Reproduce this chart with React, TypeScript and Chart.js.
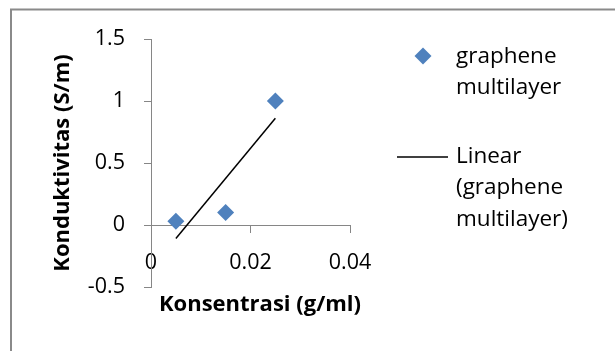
import React, { useEffect, useRef } from "react";
import { Chart, registerables } from "chart.js";

Chart.register(...registerables);

const concentration = [0.005, 0.015, 0.025];
const conductivity = [0.03, 0.1, 1.0];
const xTicks = [0, 0.02, 0.04];
const yTicks = [-0.5, 0, 0.5, 1, 1.5];
const seriesName = "graphene multilayer";
const trendName = "Linear (graphene multilayer)";
const xTitle = "Konsentrasi (g/ml)";
const yTitle = "Konduktivitas (S/m)";

const FONT = "'Open Sans', 'DejaVu Sans', sans-serif";
const BLUE = "#4F81BD";
const AXIS = "#868686";

function linearFit(xs: number[], ys: number[]) {
  const n = xs.length;
  const mx = xs.reduce((a, b) => a + b, 0) / n;
  const my = ys.reduce((a, b) => a + b, 0) / n;
  let sxy = 0, sxx = 0;
  for (let i = 0; i < n; i++) {
    sxy += (xs[i] - mx) * (ys[i] - my);
    sxx += (xs[i] - mx) * (xs[i] - mx);
  }
  const slope = sxy / sxx;
  return { slope, intercept: my - slope * mx };
}

const fmt = (v: number) => String(Math.round(v * 1000) / 1000);

export default function App() {
  const ref = useRef<HTMLCanvasElement | null>(null);

  useEffect(() => {
    document.body.style.margin = "0";
    const fit = linearFit(concentration, conductivity);
    const xMin = Math.min(...concentration);
    const xMax = Math.max(...concentration);
    const trend = [
      { x: xMin, y: fit.slope * xMin + fit.intercept },
      { x: xMax, y: fit.slope * xMax + fit.intercept },
    ];

    const decor = {
      id: "decor",
      beforeDraw(chart: any) {
        const ctx = chart.ctx;
        ctx.save();
        ctx.fillStyle = "#ffffff";
        ctx.fillRect(0, 0, chart.width, chart.height);
        ctx.strokeStyle = "#8a8a8a";
        ctx.lineWidth = 2;
        ctx.beginPath();
        ctx.moveTo(11, chart.height + 5);
        ctx.lineTo(11, 9.5);
        ctx.lineTo(chart.width + 5, 9.5);
        ctx.stroke();
        ctx.restore();
      },
      afterDraw(chart: any) {
        const ctx = chart.ctx;
        ctx.save();
        ctx.fillStyle = "#000";
        ctx.textBaseline = "middle";
        // axis titles
        ctx.font = `bold 22px ${FONT}`;
        ctx.textAlign = "center";
        ctx.fillText(xTitle, 260, 305);
        ctx.save();
        ctx.translate(63, 163);
        ctx.rotate(-Math.PI / 2);
        ctx.fillText(yTitle, 0, 0);
        ctx.restore();
        // legend
        ctx.font = `22.5px ${FONT}`;
        ctx.textAlign = "left";
        const r = 8.5;
        ctx.fillStyle = BLUE;
        ctx.beginPath();
        ctx.moveTo(423, 56 - r);
        ctx.lineTo(423 + r, 56);
        ctx.lineTo(423, 56 + r);
        ctx.lineTo(423 - r, 56);
        ctx.closePath();
        ctx.fill();
        ctx.fillStyle = "#000";
        const s1 = seriesName.split(" ");
        ctx.fillText(s1[0], 456, 56.5);
        ctx.fillText(s1[1], 456, 88);
        ctx.strokeStyle = "#000";
        ctx.lineWidth = 1.5;
        ctx.beginPath();
        ctx.moveTo(397, 157);
        ctx.lineTo(448, 157);
        ctx.stroke();
        const s2 = trendName.split(" ");
        ctx.fillText(s2[0], 456, 157);
        ctx.fillText(s2[1], 456, 188);
        ctx.fillText(s2[2], 456, 220);
        ctx.restore();
      },
    };

    const chart = new Chart(ref.current as HTMLCanvasElement, {
      type: "scatter",
      data: {
        datasets: [
          {
            label: seriesName,
            data: concentration.map((x, i) => ({ x, y: conductivity[i] })),
            pointStyle: "rectRot",
            pointRadius: 8.5,
            backgroundColor: BLUE,
            borderColor: BLUE,
            borderWidth: 0,
            order: 1,
          },
          {
            label: trendName,
            type: "line",
            data: trend,
            showLine: true,
            borderColor: "#000",
            borderWidth: 1.5,
            pointRadius: 0,
            fill: false,
            order: 2,
          } as any,
        ],
      },
      options: {
        responsive: false,
        animation: false,
        layout: { padding: { left: 0, right: 265, top: 39, bottom: 64 } },
        plugins: { legend: { display: false }, tooltip: { enabled: false } },
        scales: {
          x: {
            type: "linear",
            position: { y: 0 } as any,
            min: 0,
            max: 0.04,
            afterBuildTicks: (s: any) => {
              s.ticks = xTicks.map((v) => ({ value: v }));
            },
            ticks: {
              callback: (v: any) => fmt(Number(v)),
              font: { family: FONT, size: 21.5 },
              color: "#000",
              padding: 18,
              maxRotation: 0,
              autoSkip: false,
            },
            grid: { drawOnChartArea: false, drawTicks: true, tickLength: 7, color: AXIS },
            border: { display: true, color: AXIS, width: 1 },
          },
          y: {
            type: "linear",
            position: "left",
            min: -0.5,
            max: 1.5,
            afterBuildTicks: (s: any) => {
              s.ticks = yTicks.map((v) => ({ value: v }));
            },
            afterFit: (s: any) => {
              s.width = 151;
            },
            ticks: {
              callback: (v: any) => fmt(Number(v)),
              font: { family: FONT, size: 21.5 },
              color: "#000",
              padding: 19,
              autoSkip: false,
            },
            grid: { drawOnChartArea: false, drawTicks: true, tickLength: 7, color: AXIS },
            border: { display: true, color: AXIS, width: 1 },
          },
        },
      },
      plugins: [decor],
    });
    return () => chart.destroy();
  }, []);

  return <canvas ref={ref} width={615} height={351} style={{ display: "block" }} />;
}
